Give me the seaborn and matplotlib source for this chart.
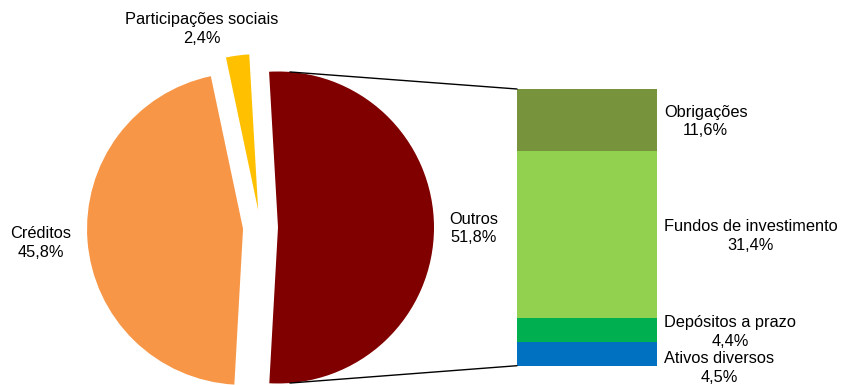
import numpy as np
import matplotlib
matplotlib.use("Agg")
import matplotlib.pyplot as plt
from matplotlib.patches import ConnectionPatch
import seaborn as sns

# ---- data ----
pie_labels = ["Outros", "Participações sociais", "Créditos"]
pie_values = [51.8, 2.4, 45.8]
pie_colors = ["#800000", "#FFC000", "#F79646"]

bar_labels = ["Ativos diversos", "Depósitos a prazo", "Fundos de investimento", "Obrigações"]
bar_values = [4.5, 4.4, 31.4, 11.6]
bar_colors = ["#0070C0", "#00B050", "#92D050", "#77933C"]

sns.set_theme(style="white")
plt.rcParams["font.family"] = ["Liberation Sans", "DejaVu Sans"]
plt.rcParams["text.color"] = "black"
FS = 11.8
LS = 1.3


def pct(v):
    return f"{v:.1f}".replace(".", ",") + "%"


W, H = 842, 385
fig = plt.figure(figsize=(W / 100, H / 100), dpi=100)
fig.patch.set_facecolor("white")

# main axes in pixel-like units (y up)
ax = fig.add_axes([0, 0, 1, 1])
R = 156.0
cx, cy = 260.5, H - 227.5
explode_px = 17.5
start = -93.2
ax.pie(pie_values, colors=pie_colors, startangle=start, counterclock=True,
       center=(cx, cy), radius=R, explode=[explode_px] * len(pie_values),
       wedgeprops=dict(linewidth=0))
ax.set_xlim(0, W)
ax.set_ylim(0, H)
ax.set_aspect("auto")
ax.axis("off")

# pie labels
pie_label_pos = {"Outros": (474, 228.5),
                 "Participações sociais": (202, 29),
                 "Créditos": (41, 243)}
for lab, val in zip(pie_labels, pie_values):
    x, y = pie_label_pos[lab]
    ax.text(x, H - y, f"{lab}\n{pct(val)}", ha="center", va="center",
            multialignment="center", fontsize=FS, color="black", linespacing=LS)

# bar axes
bx0, bx1 = 517, 657
by_top, by_bot = 89, 365.7
bax = fig.add_axes([bx0 / W, (H - by_bot) / H, (bx1 - bx0) / W, (by_bot - by_top) / H])
total = sum(bar_values)
bottom = 0.0
label_dy = [-14, -2, -1.5, -1.5]
for lab, val, col, dy in zip(bar_labels, bar_values, bar_colors, label_dy):
    bax.bar(0, val, width=1.0, bottom=bottom, color=col, linewidth=0)
    bax.annotate(f"{lab}\n{pct(val)}", xy=(0.5, bottom + val / 2), xytext=(7, dy),
                 textcoords="offset pixels", ha="left", va="center",
                 multialignment="center", fontsize=FS, linespacing=LS,
                 color="black", annotation_clip=False)
    bottom += val
bax.set_xlim(-0.5, 0.5)
bax.set_ylim(0, total)
bax.axis("off")

# connector lines
ocx = cx + explode_px
ang = np.deg2rad(85.6)
for sgn, yb in [(1, total), (-1, 0)]:
    pa = (ocx + R * np.cos(ang), cy + sgn * R * np.sin(ang))
    con = ConnectionPatch(xyA=pa, coordsA=ax.transData, xyB=(-0.5, yb),
                          coordsB=bax.transData, color="black", linewidth=1.0)
    fig.add_artist(con)

fig.savefig("out.png", dpi=100, facecolor="white")
